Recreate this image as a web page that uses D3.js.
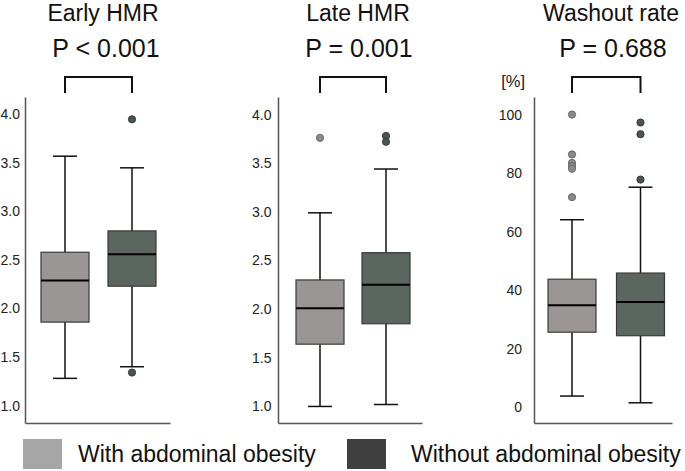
<!DOCTYPE html>
<html>
<head>
<meta charset="utf-8">
<script src="https://cdn.jsdelivr.net/npm/d3@7"></script>
<style>
  html, body { margin: 0; padding: 0; background: #fff; }
  svg { display: block; font-family: "Liberation Sans", Arial, sans-serif; }
</style>
</head>
<body>
<svg id="chart" width="685" height="471"></svg>
<script>
// ---------------- data ----------------
const groups = ["With abdominal obesity", "Without abdominal obesity"];
const panelTitles = ["Early HMR", "Late HMR", "Washout rate"];
const pLabels = ["P < 0.001", "P = 0.001", "P = 0.688"];

// [lower whisker, Q1, median, Q3, upper whisker] per group
const earlyStats = [[1.28, 1.86, 2.29, 2.58, 3.57], [1.40, 2.23, 2.56, 2.80, 3.45]];
const earlyOutliers = [[], [3.95, 1.34]];
const lateStats = [[1.00, 1.64, 2.01, 2.30, 2.99], [1.02, 1.85, 2.25, 2.58, 3.44]];
const lateOutliers = [[3.76], [3.78, 3.72]];
const washStats = [[3.9, 25.7, 34.9, 43.8, 64.1], [1.6, 24.5, 36.0, 45.9, 75.2]];
const washOutliers = [[100, 86.4, 83.5, 82.4, 81.5, 71.8], [97.3, 93.3, 77.8]];

const hmrTicks = [1.0, 1.5, 2.0, 2.5, 3.0, 3.5, 4.0];
const washTicks = [0, 20, 40, 60, 80, 100];

// ---------------- styles ----------------
const boxFill = ["#9a9696", "#5a665f"];
const outFill = ["#8a8a8a", "#4a5550"];
const outStroke = ["#6a6a6a", "#353d39"];
const legendFill = ["#a6a6a6", "#404040"];

const svg = d3.select("#chart");

const panels = [
  { title: panelTitles[0], p: pLabels[0], stats: earlyStats, outliers: earlyOutliers,
    ticks: hmrTicks, fmt: d3.format(".1f"), domain: [0.82, 4.18],
    x0: 25, x1: 170, px: [65, 132], labelGap: 5, titleX: 103, pX: 106, unit: null },
  { title: panelTitles[1], p: pLabels[1], stats: lateStats, outliers: lateOutliers,
    ticks: hmrTicks, fmt: d3.format(".1f"), domain: [0.83, 4.18],
    x0: 278, x1: 422, px: [320, 386], labelGap: 6.5, titleX: 358, pX: 359, unit: null },
  { title: panelTitles[2], p: pLabels[2], stats: washStats, outliers: washOutliers,
    ticks: washTicks, fmt: d3.format("d"), domain: [-5.3, 106],
    x0: 534, x1: 672, px: [572, 640.5], labelGap: 12, titleX: 611, pX: 613, unit: "[%]" }
];

const yTop = 97, yBot = 423;

panels.forEach(P => {
  const g = svg.append("g");
  const y = d3.scaleLinear().domain(P.domain).range([yBot, yTop]);
  const x = d3.scalePoint().domain(groups).range(P.px);

  // y axis
  const yAxis = d3.axisLeft(y).tickValues(P.ticks).tickFormat(P.fmt)
    .tickSize(0).tickPadding(P.labelGap);
  const ya = g.append("g").attr("transform", `translate(${P.x0},0)`).call(yAxis);
  ya.select(".domain").attr("stroke", "#555").attr("stroke-width", 1.5);
  ya.selectAll("text").attr("font-size", 14).attr("fill", "#222")
    .attr("font-family", "'Liberation Sans', Arial, sans-serif");

  // x axis baseline
  const xs = d3.scaleLinear().domain([0, 1]).range([P.x0, P.x1]);
  const xAxis = d3.axisBottom(xs).tickValues([]).tickSizeOuter(0);
  const xa = g.append("g").attr("transform", `translate(0,${yBot})`).call(xAxis);
  xa.select(".domain").attr("stroke", "#555").attr("stroke-width", 1.5);

  const bw = 48, capW = 24;

  groups.forEach((grp, i) => {
    const [lo, q1, med, q3, hi] = P.stats[i];
    const cx = x(grp);
    const bg = g.append("g");
    // whiskers
    bg.append("line").attr("x1", cx).attr("x2", cx).attr("y1", y(q3)).attr("y2", y(hi))
      .attr("stroke", "#111").attr("stroke-width", 1.5);
    bg.append("line").attr("x1", cx).attr("x2", cx).attr("y1", y(q1)).attr("y2", y(lo))
      .attr("stroke", "#111").attr("stroke-width", 1.5);
    bg.append("line").attr("x1", cx - capW / 2).attr("x2", cx + capW / 2).attr("y1", y(hi)).attr("y2", y(hi))
      .attr("stroke", "#111").attr("stroke-width", 1.5);
    bg.append("line").attr("x1", cx - capW / 2).attr("x2", cx + capW / 2).attr("y1", y(lo)).attr("y2", y(lo))
      .attr("stroke", "#111").attr("stroke-width", 1.5);
    // box
    bg.append("rect").attr("x", cx - bw / 2).attr("width", bw)
      .attr("y", y(q3)).attr("height", y(q1) - y(q3))
      .attr("fill", boxFill[i]).attr("stroke", "#3a3a3a").attr("stroke-width", 1.2);
    // median
    bg.append("line").attr("x1", cx - bw / 2).attr("x2", cx + bw / 2).attr("y1", y(med)).attr("y2", y(med))
      .attr("stroke", "#000").attr("stroke-width", 2);
    // outliers
    bg.selectAll("circle").data(P.outliers[i]).join("circle")
      .attr("cx", cx).attr("cy", d => y(d)).attr("r", 3.6)
      .attr("fill", outFill[i]).attr("stroke", outStroke[i]).attr("stroke-width", 1);
  });

  // significance bracket
  const bTop = 77, bBottom = 93;
  g.append("path")
    .attr("d", `M${x(groups[0])},${bBottom}V${bTop}H${x(groups[1])}V${bBottom}`)
    .attr("fill", "none").attr("stroke", "#111").attr("stroke-width", 2);

  // titles
  g.append("text").attr("x", P.titleX).attr("y", 21).attr("text-anchor", "middle")
    .attr("font-size", 23).attr("fill", "#111").text(P.title);
  g.append("text").attr("x", P.pX).attr("y", 57).attr("text-anchor", "middle")
    .attr("font-size", 25).attr("fill", "#111").text(P.p);
  if (P.unit) {
    g.append("text").attr("x", 525).attr("y", 87).attr("text-anchor", "end")
      .attr("font-size", 16.5).attr("fill", "#222").text(P.unit);
  }
});

// legend
const legendX = [23, 347];
const legend = svg.append("g");
groups.forEach((grp, i) => {
  legend.append("rect").attr("x", legendX[i]).attr("y", 439).attr("width", 39).attr("height", 30)
    .attr("fill", legendFill[i]);
  legend.append("text").attr("x", legendX[i] + 55 + (i ? 9 : 0)).attr("y", 462)
    .attr("font-size", 23).attr("fill", "#111").text(grp);
});
</script>
</body>
</html>
